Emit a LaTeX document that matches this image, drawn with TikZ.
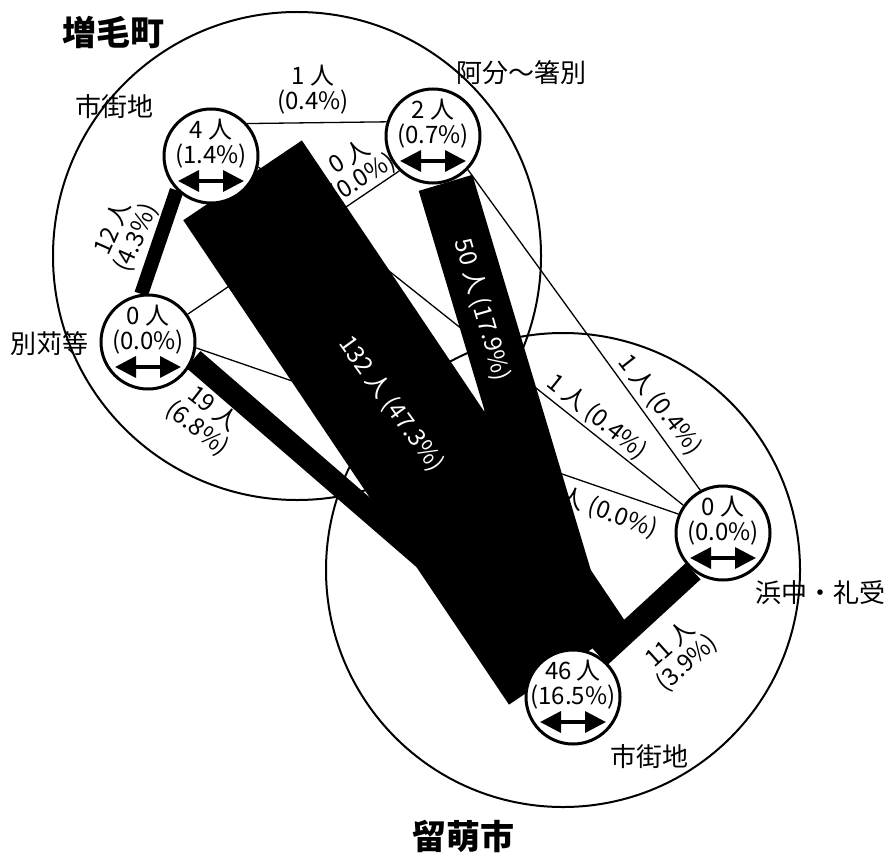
\documentclass[tikz,border=0pt]{standalone}
\usepackage{fontspec}
\setmainfont{Noto Sans CJK JP}
\usetikzlibrary{arrows.meta}
\pgfdeclarelayer{rings}
\pgfdeclarelayer{links}
\pgfdeclarelayer{flows}
\pgfsetlayers{rings,links,flows,main}

\begin{document}
\begin{tikzpicture}[x=1pt, y=-1pt,
    place/.style={circle, draw, line width=3pt, fill=white, minimum size=94pt, inner sep=0pt},
    count/.style={align=center, font=\fontsize{24}{25}\selectfont, yshift=12.5pt},
    flow/.style={line width=#1pt},
    link/.style={line width=1.3pt},
    lbl/.style={align=center, font=\fontsize{24}{25}\selectfont},
    wlbl/.style={text=white, font=\fontsize{24}{25}\selectfont},
    area/.style={font=\fontsize{26}{30}\selectfont},
    town/.style={font=\bfseries\fontsize{34}{40}\selectfont},
    both/.style={{Triangle[width=21pt,length=21pt]}-{Triangle[width=21pt,length=21pt]}, line width=3.5pt}]
    \useasboundingbox (0,0) rectangle (890,856);

    % Nodes
    \node[place, label={[count]center:{4 人\\(1.4\%)}}] (mashike) at (211,156) {};
    \node[place, label={[count]center:{2 人\\(0.7\%)}}] (abun) at (433,136) {};
    \node[place, label={[count]center:{0 人\\(0.0\%)}}] (betsu) at (148,342) {};
    \node[place, label={[count]center:{0 人\\(0.0\%)}}] (hama) at (723,533) {};
    \node[place, label={[count]center:{46 人\\(16.5\%)}}] (rumoi) at (573,697) {};
    \foreach \n in {mashike,abun,betsu,hama,rumoi}
        \draw[both] ([xshift=-33pt,yshift=-25pt]\n.center) -- ([xshift=33pt,yshift=-25pt]\n.center);

    % Towns
    \begin{pgfonlayer}{rings}
    \draw[line width=2pt] (297,256) circle[radius=244pt];
    \draw[line width=2pt] (563,570) circle[radius=237pt];
    \end{pgfonlayer}
    \node[town] (mtown) at (113,32) {増毛町};
    \node[town] (rtown) at (463,836) {留萌市};

    % Thin edges
    \begin{pgfonlayer}{links}
    \draw[link] (mashike.42) -- (abun.163);
    \draw[link] (betsu.35) -- (abun.226);
    \draw[link] (betsu.-7) -- (hama.157);
    \draw[link] (mashike.-13) -- (hama.145);
    \draw[link] (abun.-44) -- (hama.118);
    \node[lbl] (l1) at (313,90) {1 人\\(0.4\%)};
    \node[lbl, rotate=32] (l2) at (356,168) {0 人\\(0.0\%)};
    \node[lbl, rotate=-20] (l3) at (600,510) {0 人 (0.0\%)};
    \node[lbl, rotate=-38.5] (l4) at (597,417) {1 人 (0.4\%)};
    \node[lbl, rotate=-52] (l5) at (660,405) {1 人 (0.4\%)};
    \end{pgfonlayer}

    % Thick edges
    \begin{pgfonlayer}{flows}
    \draw[flow=143, shorten <=-9pt, shorten >=-17pt] (mashike.-41) -- (rumoi.107);
    \draw[flow=56] (abun.-75) -- (rumoi.75);
    \draw[flow=14] (mashike.225) -- (betsu.98);
    \draw[flow=22] (betsu.-21) -- (rumoi.131);
    \draw[flow=22] (hama.232) -- (rumoi.56);
    \end{pgfonlayer}
    \node[wlbl, rotate=-54] (b1) at (391,404) {132 人 (47.3\%)};
    \node[wlbl, rotate=-74] (b2) at (482,310) {50 人 (17.9\%)};
    \node[lbl, rotate=66] (b3) at (125,233) {12 人\\(4.3\%)};
    \node[lbl, rotate=-38] (b4) at (205,419) {19 人\\(6.8\%)};
    \node[lbl, rotate=42] (b5) at (679,654) {11 人\\(3.9\%)};

    % Areas
    \node[area] (a1) at (114,107) {市街地};
    \node[area] (a2) at (521,73) {阿分〜箸別};
    \node[area] (a3) at (49,344) {別苅等};
    \node[area] (a4) at (820,593) {浜中・礼受};
    \node[area] (a5) at (649,757) {市街地};
\end{tikzpicture}
\end{document}
